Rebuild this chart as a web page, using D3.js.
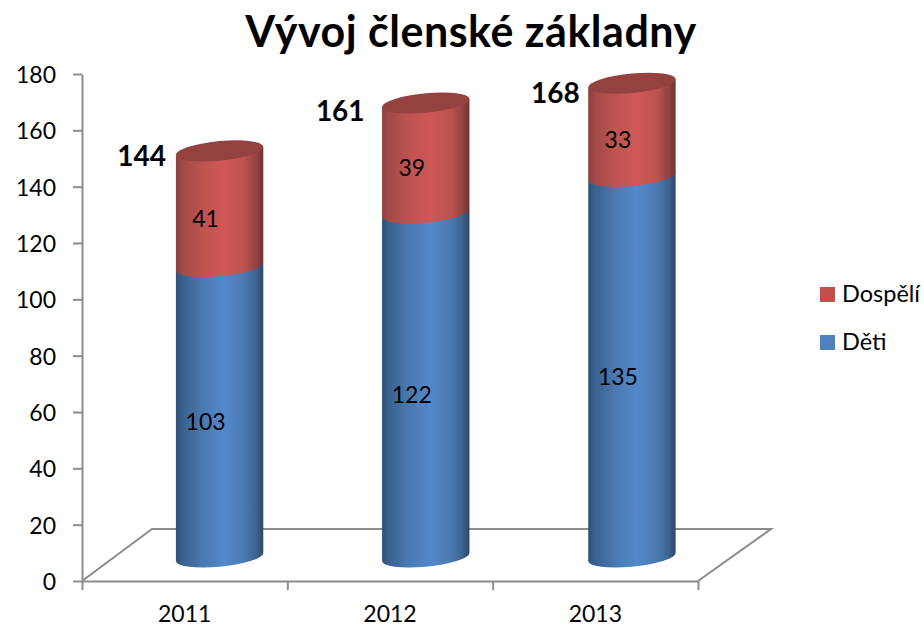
<!DOCTYPE html>
<html><head><meta charset="utf-8">
<script src="https://cdn.jsdelivr.net/npm/d3@7"></script>
<style>html,body{margin:0;background:#fff}svg{display:block}text{font-family:Lato,"Open Sans",sans-serif;fill:#000}</style>
</head><body><div id="c"></div>
<script>
const years = ["2011","2012","2013"];
const deti = [103,122,135];
const dospeli = [41,39,33];
const totals = [144,161,168];
const tickValues = [0,20,40,60,80,100,120,140,160,180];
const title = "Vývoj členské základny";
const seriesNames = ["Dospělí","Děti"];

const W=924,H=627;
const svg=d3.select("#c").append("svg").attr("width",W).attr("height",H);
const grey="#8c8c8c";
const yAxisS=d3.scaleLinear().domain([0,180]).range([581,74]);
const yBar=d3.scaleLinear().domain([0,180]).range([557,49.4]);
const xAxisS=d3.scaleBand().domain(years).range([82,698]);
const xBar=d3.scaleBand().domain(years).range([116.5,735]);
const rx=43.7, ry=9.8, skew=4;

function grad(id,stops){
  const g=defs.append("linearGradient").attr("id",id).attr("x1",0).attr("x2",1).attr("y1",0).attr("y2",0);
  stops.forEach(([o,c])=>g.append("stop").attr("offset",o).attr("stop-color",c));
}
const defs=svg.append("defs");
grad("blue",[[0,"#2f5379"],[.08,"#39628f"],[.3,"#4a79b0"],[.55,"#5388ca"],[.78,"#4a7ab2"],[.92,"#3d648f"],[1,"#2a4768"]]);
grad("red",[[0,"#8f403e"],[.08,"#a24a47"],[.3,"#bd5350"],[.55,"#cf5856"],[.78,"#bd5350"],[.92,"#934341"],[1,"#6f3331"]]);

// floor
const floor=svg.append("g").attr("fill","none").attr("stroke",grey).attr("stroke-width",2);
floor.append("path").attr("d",d3.line()([[xAxisS.range()[0],yAxisS(0)],[152,529],[771,529],[xAxisS.range()[1],yAxisS(0)]]));

// axes
const yAxis=d3.axisLeft(yAxisS).tickValues(tickValues).tickSize(9).tickPadding(17).tickSizeOuter(0);
const yG=svg.append("g").attr("transform","translate(82,0)").call(yAxis);
const xAxisTicks=d3.axisBottom(d3.scaleLinear().domain([0,3]).range([82,698])).tickValues([0,1,2,3]).tickSize(9).tickFormat("").tickSizeOuter(0);
const xG=svg.append("g").attr("transform",`translate(0,${yAxisS(0)})`).call(xAxisTicks);
[yG,xG].forEach(g=>{g.selectAll("path,line").attr("stroke",grey).attr("stroke-width",2);});
yG.selectAll("text").attr("font-size",23).attr("font-family","Lato").attr("y",1);
svg.append("g").selectAll("text").data(years).join("text")
  .attr("x",d=>xAxisS(d)+xAxisS.bandwidth()/2).attr("y",622)
  .attr("text-anchor","middle").attr("font-size",23).text(d=>d);

// cylinders
const matrix=(cx)=>`matrix(1,${-skew/rx},0,1,${cx},0)`;
function body(y0,y1){ // y0 bottom, y1 top
  return `M${-rx},${y1}L${-rx},${y0}A${rx},${ry} 0 0 0 ${rx},${y0}L${rx},${y1}Z`;
}
const bars=svg.append("g").selectAll("g").data(years).join("g")
  .attr("transform",d=>matrix(xBar(d)+xBar.bandwidth()/2));
bars.append("path").attr("fill","url(#blue)").attr("d",(d,i)=>body(yBar(0),yBar(deti[i])));
bars.append("path").attr("fill","url(#red)").attr("d",(d,i)=>body(yBar(deti[i]),yBar(totals[i])));
bars.append("ellipse").attr("cx",0).attr("cy",(d,i)=>yBar(totals[i])).attr("rx",rx).attr("ry",ry).attr("fill","#944240");

// value labels
const centre=d=>xBar(d)+xBar.bandwidth()/2;
const lab=svg.append("g").attr("text-anchor","middle").attr("font-size",23);
lab.selectAll(".d").data(years).join("text").attr("x",d=>centre(d)-14)
  .attr("y",(d,i)=>yBar(deti[i]/2)+18).text((d,i)=>deti[i]);
lab.selectAll(".r").data(years).join("text").attr("x",d=>centre(d)-14)
  .attr("y",(d,i)=>yBar(deti[i]+dospeli[i]/2)+18).text((d,i)=>dospeli[i]);
const totalDx=[-78,-85.5,-76.5], totalDy=[15,18,20];
svg.append("g").attr("text-anchor","middle").attr("font-size",28).attr("font-weight",700)
  .selectAll("text").data(years).join("text")
  .attr("x",(d,i)=>centre(d)+totalDx[i])
  .attr("y",(d,i)=>yBar(totals[i])+totalDy[i]).text((d,i)=>totals[i]);

// title
svg.append("text").attr("x",471).attr("y",47).attr("text-anchor","middle").attr("font-size",43).attr("letter-spacing",0.5).attr("font-weight",700).text(title);

// legend
const colors=d3.scaleOrdinal().domain(seriesNames).range(["#c0504d","#4f81bd"]);
const leg=svg.append("g").selectAll("g").data(seriesNames).join("g").attr("transform",(d,i)=>`translate(820,${287+i*48})`);
leg.append("rect").attr("width",15).attr("height",15).attr("fill",d=>colors(d));
leg.append("text").attr("x",22).attr("y",15).attr("font-size",23.5).text(d=>d);
</script></body></html>
